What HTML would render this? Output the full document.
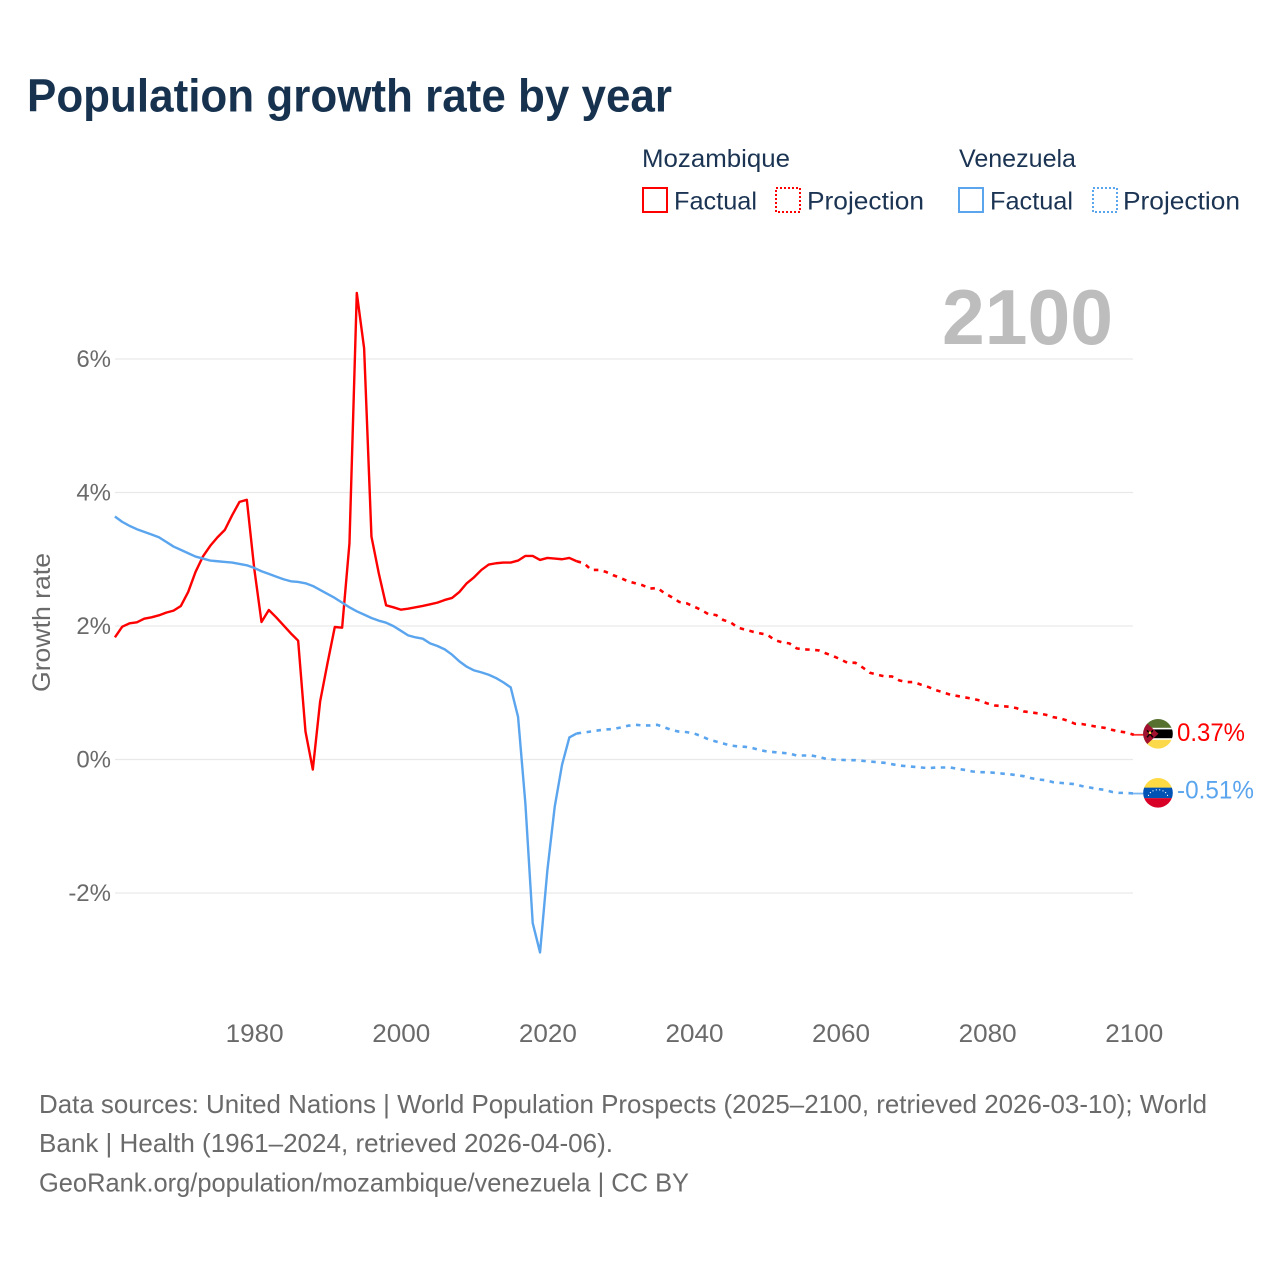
<!DOCTYPE html>
<html lang="en">
<head>
<meta charset="utf-8">
<title>Population growth rate by year</title>
<style>
html,body{margin:0;padding:0;background:#fff;}
svg{display:block;font-family:"Liberation Sans",sans-serif;}
.leg{font-size:25px;fill:#1b3453;}
.foot{font-size:26px;fill:#6a6a6a;}
</style>
</head>
<body>
<svg id="chart" xmlns="http://www.w3.org/2000/svg" width="1280" height="1280" viewBox="0 0 1280 1280">
  <rect x="0" y="0" width="1280" height="1280" fill="#fff"/>
  <text x="27" y="111.5" font-size="46.5" font-weight="700" fill="#17324f" textLength="645" lengthAdjust="spacingAndGlyphs">Population growth rate by year</text>

  <g>
    <text class="leg" x="642" y="167" textLength="148" lengthAdjust="spacingAndGlyphs">Mozambique</text>
    <rect x="643" y="188" width="24" height="24" fill="none" stroke="#ff0000" stroke-width="2"/>
    <text class="leg" x="674" y="209.5" textLength="83" lengthAdjust="spacingAndGlyphs">Factual</text>
    <rect x="776" y="188" width="24" height="24" fill="none" stroke="#ff0000" stroke-width="2" stroke-dasharray="2 2"/>
    <text class="leg" x="807" y="209.5" textLength="117" lengthAdjust="spacingAndGlyphs">Projection</text>

    <text class="leg" x="959" y="167" textLength="117" lengthAdjust="spacingAndGlyphs">Venezuela</text>
    <rect x="959" y="188" width="24" height="24" fill="none" stroke="#5aa5ee" stroke-width="2"/>
    <text class="leg" x="990" y="209.5" textLength="83" lengthAdjust="spacingAndGlyphs">Factual</text>
    <rect x="1093" y="188" width="24" height="24" fill="none" stroke="#5aa5ee" stroke-width="2" stroke-dasharray="2 2"/>
    <text class="leg" x="1123" y="209.5" textLength="117" lengthAdjust="spacingAndGlyphs">Projection</text>
  </g>

  <text x="942" y="344" font-size="78" font-weight="700" fill="#bdbdbd" textLength="171" lengthAdjust="spacingAndGlyphs">2100</text>

  <text transform="translate(50 692) rotate(-90)" x="0" y="0" font-size="25" fill="#6a6a6a" textLength="139" lengthAdjust="spacingAndGlyphs">Growth rate</text>

  <g id="grid"></g>
  <g id="yaxis"></g>
  <g id="xaxis"></g>
  <g id="series"></g>

  <defs>
    <clipPath id="clip-moz"><circle cx="0" cy="0" r="14.8"/></clipPath>
    <clipPath id="clip-ven"><circle cx="0" cy="0" r="14.8"/></clipPath>
  </defs>

  <g id="flag-moz">
    <g clip-path="url(#clip-moz)">
      <rect x="-16" y="-16" width="32" height="11" fill="#56712f"/>
      <rect x="-16" y="-6" width="32" height="12" fill="#ffffff"/>
      <rect x="-16" y="-4.4" width="32" height="8.8" fill="#000000"/>
      <rect x="-16" y="6" width="32" height="10" fill="#fcd94a"/>
      <polygon points="-16,-15 0.5,0 -16,15" fill="#a2102f"/>
      <path d="M-11,-3.5 L-5,3.5 M-5,-3.5 L-11,3.5" stroke="#000" stroke-width="1.5" fill="none"/>
      <circle cx="-8" cy="-1" r="1.3" fill="#fcd94a"/>
    </g>
  </g>
  <g id="flag-ven">
    <g clip-path="url(#clip-ven)">
      <rect x="-16" y="-16" width="32" height="11" fill="#ffda44"/>
      <rect x="-16" y="-5.2" width="32" height="10.5" fill="#0052b4"/>
      <rect x="-16" y="5.3" width="32" height="11" fill="#d80027"/>
      <g fill="#fff">
        <circle cx="-9.5" cy="2.5" r=".6"/><circle cx="-7.6" cy="-.2" r=".6"/><circle cx="-5" cy="-2" r=".6"/><circle cx="-1.7" cy="-3" r=".6"/>
        <circle cx="1.7" cy="-3" r=".6"/><circle cx="5" cy="-2" r=".6"/><circle cx="7.6" cy="-.2" r=".6"/><circle cx="9.5" cy="2.5" r=".6"/>
      </g>
    </g>
  </g>

  <g>
    <text class="foot" x="39" y="1113" textLength="1168" lengthAdjust="spacingAndGlyphs">Data sources: United Nations | World Population Prospects (2025–2100, retrieved 2026-03-10); World</text>
    <text class="foot" x="39" y="1152" textLength="574" lengthAdjust="spacingAndGlyphs">Bank | Health (1961–2024, retrieved 2026-04-06).</text>
    <text class="foot" x="39" y="1191.5" textLength="650" lengthAdjust="spacingAndGlyphs">GeoRank.org/population/mozambique/venezuela | CC BY</text>
  </g>
</svg>

<script>
const factualStartYear = 1961;
const projectionStartYear = 2024;
const xTickYears = [1980, 2000, 2020, 2040, 2060, 2080, 2100];
const yTickValues = [6, 4, 2, 0, -2];

const mozambiqueFactual = [
  1.83,1.99,2.04,2.055,2.11,2.13,2.16,2.20,2.23,2.30,
  2.51,2.81,3.04,3.20,3.33,3.44,3.66,3.86,3.89,2.87,
  2.06,2.24,2.13,2.01,1.89,1.78,0.42,-0.15,0.87,1.44,
  1.985,1.975,3.24,6.99,6.16,3.34,2.79,2.31,2.28,2.245,
  2.26,2.28,2.30,2.325,2.35,2.39,2.42,2.51,2.64,2.73,
  2.84,2.92,2.94,2.95,2.95,2.98,3.05,3.05,2.99,3.02,
  3.01,3.00,3.02,2.97
];
const mozambiqueProjection = [
  2.97,2.94,2.84,2.84,2.81,2.76,2.72,2.67,2.64,2.61,2.56,2.57,2.49,2.43,2.36,2.34,
  2.29,2.24,2.175,2.165,2.09,2.055,1.975,1.945,1.915,1.89,1.87,
  1.79,1.755,1.74,1.665,1.65,1.645,1.635,1.59,1.55,1.50,
  1.445,1.45,1.38,1.30,1.27,1.245,1.245,1.185,1.16,1.16,
  1.12,1.085,1.04,1.005,0.97,0.95,0.93,0.91,0.885,0.84,
  0.81,0.80,0.79,0.77,0.72,0.705,0.69,0.67,0.635,0.615,
  0.58,0.535,0.53,0.51,0.49,0.475,0.445,0.42,0.405,0.37
];
const venezuelaFactual = [
  3.64,3.56,3.50,3.45,3.41,3.37,3.33,3.26,3.19,3.14,
  3.09,3.04,3.01,2.98,2.97,2.96,2.95,2.93,2.91,2.87,
  2.82,2.78,2.74,2.70,2.67,2.66,2.64,2.60,2.54,2.48,
  2.42,2.35,2.28,2.22,2.17,2.12,2.08,2.05,1.998,1.93,
  1.86,1.83,1.81,1.74,1.70,1.65,1.57,1.47,1.39,1.335,
  1.305,1.27,1.22,1.155,1.08,0.64,-0.66,-2.45,-2.89,-1.66,
  -0.71,-0.08,0.33,0.39
];
const venezuelaProjection = [
  0.39,0.405,0.42,0.437,0.45,0.457,0.48,0.506,0.52,0.51,0.51,0.52,0.48,0.44,0.417,0.41,
  0.39,0.35,0.30,0.27,0.24,0.21,0.196,0.19,0.17,0.14,0.12,
  0.11,0.10,0.09,0.06,0.06,0.06,0.04,0.01,0.0,-0.005,
  -0.01,-0.01,-0.02,-0.03,-0.04,-0.05,-0.07,-0.09,-0.10,-0.11,
  -0.12,-0.13,-0.12,-0.12,-0.12,-0.14,-0.157,-0.18,-0.19,-0.19,
  -0.20,-0.21,-0.22,-0.235,-0.25,-0.28,-0.30,-0.31,-0.34,-0.35,
  -0.36,-0.37,-0.40,-0.42,-0.44,-0.455,-0.485,-0.50,-0.50,-0.51
];

const SVG_NS = 'http://www.w3.org/2000/svg';
const RED = '#ff0000';
const BLUE = '#5aa5ee';

function xScale(year) { return 114.9 + (year - 1961) * 7.33; }
function yScale(value) { return 759.5 - value * 66.75; }

function make(tag, parent, attrs, text) {
  const el = document.createElementNS(SVG_NS, tag);
  for (const k in attrs) el.setAttribute(k, attrs[k]);
  if (text !== undefined) el.textContent = text;
  parent.appendChild(el);
  return el;
}

function linePath(values, startYear) {
  return values.map(function (v, i) {
    return (i ? 'L' : 'M') + xScale(startYear + i).toFixed(2) + ' ' + yScale(v).toFixed(2);
  }).join(' ');
}

const gridGroup = document.getElementById('grid');
const yAxisGroup = document.getElementById('yaxis');
const xAxisGroup = document.getElementById('xaxis');
const seriesGroup = document.getElementById('series');

yTickValues.forEach(function (v) {
  const line = make('line', gridGroup, {x1: 115, x2: 1133, y1: yScale(v), y2: yScale(v), stroke: '#e9e9e9', 'stroke-width': 1.3});
  
  
  const label = make('text', yAxisGroup, {x: 111, y: yScale(v) + 8, 'text-anchor': 'end', 'font-size': 24, fill: '#6a6a6a'}, v + '%');
  
  
});

xTickYears.forEach(function (yr) {
  const label = make('text', xAxisGroup, {x: xScale(yr) - 28.5, y: 1042, 'font-size': 25, fill: '#6a6a6a', textLength: 58, lengthAdjust: 'spacingAndGlyphs'}, String(yr));
  
  
});

function lineAttrs(values, startYear, color, dashed) {
  const a = {d: linePath(values, startYear), fill: 'none', stroke: color, 'stroke-width': dashed ? 2.6 : 2.4, 'stroke-linejoin': 'round'};
  if (dashed) a['stroke-dasharray'] = '4.5 5.5';
  return a;
}

const mozFactualLine = make('path', seriesGroup, lineAttrs(mozambiqueFactual, factualStartYear, RED, false));



const mozProjectionLine = make('path', seriesGroup, lineAttrs(mozambiqueProjection, projectionStartYear, RED, true));



const venFactualLine = make('path', seriesGroup, lineAttrs(venezuelaFactual, factualStartYear, BLUE, false));



const venProjectionLine = make('path', seriesGroup, lineAttrs(venezuelaProjection, projectionStartYear, BLUE, true));



const lastYear = projectionStartYear + mozambiqueProjection.length - 1;
const mozLast = mozambiqueProjection[mozambiqueProjection.length - 1];
const venLast = venezuelaProjection[venezuelaProjection.length - 1];

const mozConnector = make('line', seriesGroup, {x1: xScale(lastYear) - 2, x2: 1144, y1: yScale(mozLast), y2: yScale(mozLast), stroke: RED, 'stroke-width': 1.8, opacity: 0.8});



const venConnector = make('line', seriesGroup, {x1: xScale(lastYear) - 2, x2: 1144, y1: yScale(venLast), y2: yScale(venLast), stroke: BLUE, 'stroke-width': 1.8, opacity: 0.8});



document.getElementById('flag-moz').setAttribute('transform', 'translate(1158 ' + (yScale(mozLast) - 1) + ')');
document.getElementById('flag-ven').setAttribute('transform', 'translate(1158 ' + (yScale(venLast) - 0.7) + ')');

const mozValue = make('text', seriesGroup, {x: 1177, y: yScale(mozLast) + 6, 'font-size': 25, fill: RED, textLength: 68, lengthAdjust: 'spacingAndGlyphs'}, mozLast.toFixed(2) + '%');



const venValue = make('text', seriesGroup, {x: 1177, y: yScale(venLast) + 5, 'font-size': 25, fill: BLUE, textLength: 77, lengthAdjust: 'spacingAndGlyphs'}, venLast.toFixed(2) + '%');


</script>
</body>
</html>
